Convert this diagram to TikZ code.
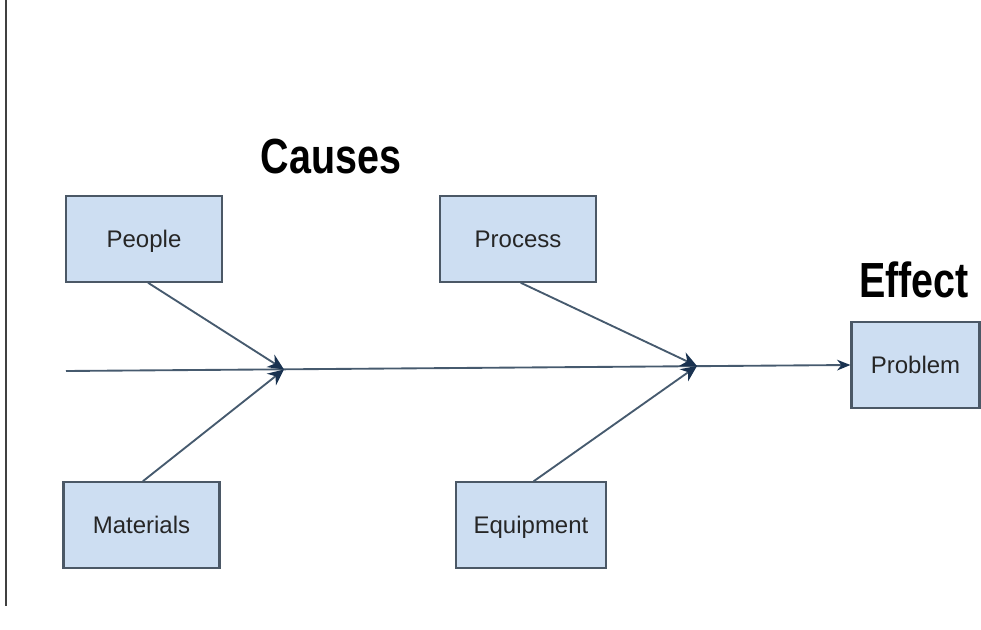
\documentclass[tikz,border=0pt]{standalone}
\usepackage{fontspec}
\setmainfont{Liberation Sans}
\newfontfamily\headfont[FakeStretch=0.8]{Liberation Sans}
\usetikzlibrary{arrows.meta}
\definecolor{boxfill}{RGB}{205,222,242}
\definecolor{boxline}{RGB}{75,88,102}
\definecolor{spine}{RGB}{70,90,110}
\definecolor{tipcol}{RGB}{25,50,80}
\tikzset{
	cause/.style={draw=boxline, line width=1.6pt, fill=boxfill, minimum width=117pt, minimum height=64pt, font=\fontsize{18}{20}\selectfont, text=black!85, text depth=0pt},
	bone/.style={draw=spine, line width=1.4pt, -{Stealth[length=12pt, width=11pt, color=tipcol]}},
	head/.style={font=\headfont\bfseries\fontsize{37}{40}\selectfont}
}
\begin{document}
\begin{tikzpicture}[x=0.75pt, y=-0.75pt]
		\useasboundingbox (0,0) rectangle (981,630);
		\draw[line width=1.5pt, black!75] (6,0) -- (6,606);
		\node[cause] (people) at (144,239) {People};
		\node[cause] (process) at (518,239) {Process};
		\node[cause] (materials) at (141.5,525) {Materials};
		\node[cause, minimum width=112pt] (equipment) at (531,525) {Equipment};
		\node[cause, minimum width=96pt] (problem) at (915.5,365) {Problem};
		\node[head] (causes) at (331,157) {Causes};
		\node[head] (effect) at (914,280) {Effect};
		\coordinate (start) at (66,371);
		\coordinate (joint1) at (284,369.5);
		\coordinate (joint2) at (697,366);
		% spine and branches
		\draw[bone, -{Stealth[length=10pt, width=8pt, color=tipcol]}] (start) -- (problem.west);
		\draw[bone] ([xshift=3]people.south) -- (joint1);
		\draw[bone] ([xshift=1]materials.north) -- (joint1);
		\draw[bone] ([xshift=2]process.south) -- (joint2);
		\draw[bone] ([xshift=2]equipment.north) -- (joint2);
	\end{tikzpicture}
\end{document}
